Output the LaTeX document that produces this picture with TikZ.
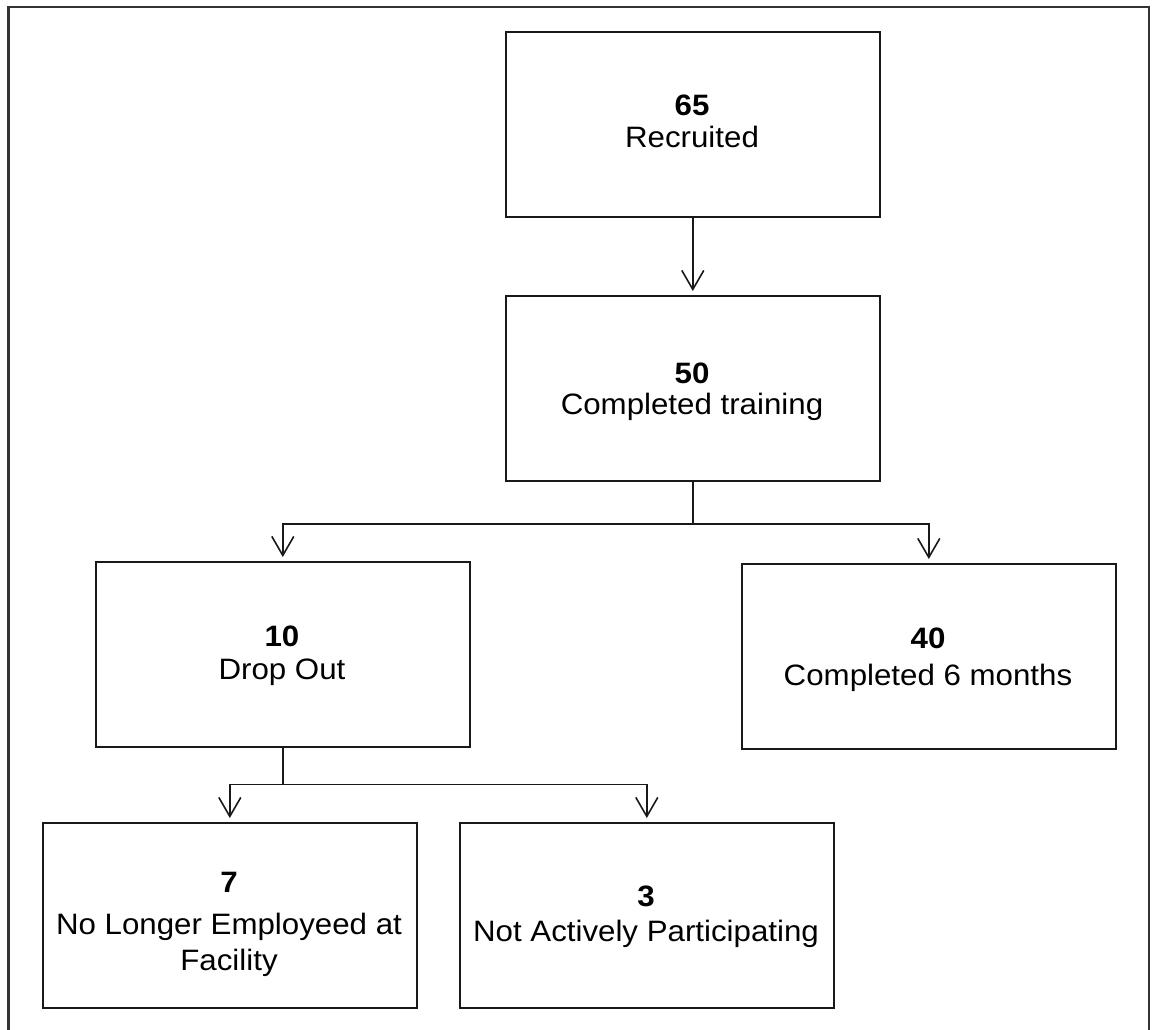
\documentclass[tikz,border=0pt]{standalone}
\usepackage{fontspec}
\setmainfont{Liberation Sans}[FakeStretch=1.06]
\usetikzlibrary{arrows.meta}
\begin{document}
\begin{tikzpicture}[x=1pt,y=-1pt,
  box/.style={draw=black!90, line width=1.6pt, minimum width=374pt, minimum height=185pt, inner sep=0pt, anchor=north west},
  txt/.style={anchor=base, inner sep=0pt, font=\fontsize{29.5}{33}\selectfont},
  num/.style={anchor=base, inner sep=0pt, font=\fontsize{29.5}{33}\selectfont\bfseries},
  conn/.style={line width=1.6pt, draw=black!90},
  arr/.style={conn, -{Straight Barb[length=19pt,width=22pt,line width=1.6pt]}, shorten >=4pt}]
\useasboundingbox (0,0) rectangle (1152,1030);
\draw[line width=2.4pt, draw=black!80] (8.5,7) rectangle (1149,1045);

\node[box] (b1) at (505,31) {};
\node[box] (b2) at (505,295) {};
\node[box] (b3) at (95,561) {};
\node[box] (b4) at (741,563) {};
\node[box] (b5) at (42,822) {};
\node[box] (b6) at (459,822) {};

\node[num] (n1) at (692,116) {65};
\node[txt] (t1) at (692,148) {Recruited};
\node[num] (n2) at (692,383) {50};
\node[txt] (t2) at (692,414) {Completed training};
\node[num] (n3) at (282,646) {10};
\node[txt] (t3) at (282,679) {Drop Out};
\node[num] (n4) at (928,648) {40};
\node[txt] (t4) at (928,685) {Completed 6 months};
\node[num] (n5) at (229,892) {7};
\node[txt] (t5a) at (229,934) {No Longer Employeed at};
\node[txt] (t5b) at (229,970) {Facility};
\node[num] (n6) at (646,906) {3};
\node[txt] (t6) at (646,941) {Not Actively Participating};

\draw[arr] (b1.south) -- (b2.north);
\draw[arr] (b2.south) -- ++(0,42.5) -| (b3.north);
\draw[arr] (b2.south) -- ++(0,42.5) -| (b4.north);
\draw[arr] (b3.south) -- ++(0,36.7) -| (b5.north);
\draw[arr] (b3.south) -- ++(0,36.7) -| (b6.north);
\end{tikzpicture}
\end{document}
